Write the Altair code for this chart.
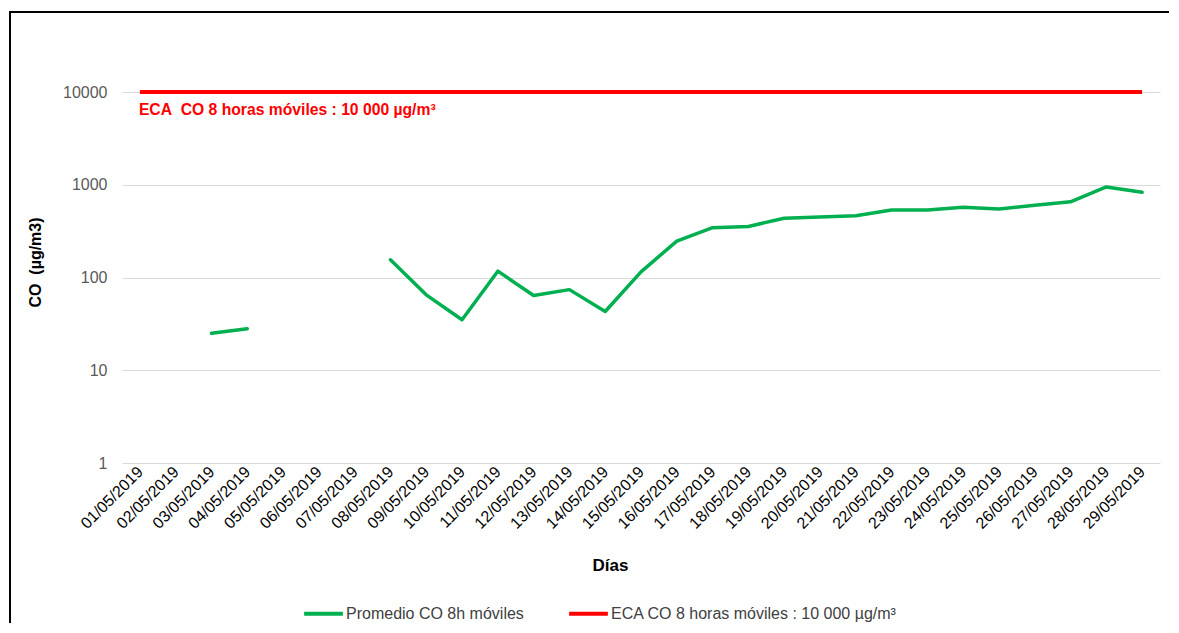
import altair as alt
import pandas as pd

fechas = ["01/05/2019", "02/05/2019", "03/05/2019", "04/05/2019", "05/05/2019",
          "06/05/2019", "07/05/2019", "08/05/2019", "09/05/2019", "10/05/2019",
          "11/05/2019", "12/05/2019", "13/05/2019", "14/05/2019", "15/05/2019",
          "16/05/2019", "17/05/2019", "18/05/2019", "19/05/2019", "20/05/2019",
          "21/05/2019", "22/05/2019", "23/05/2019", "24/05/2019", "25/05/2019",
          "26/05/2019", "27/05/2019", "28/05/2019", "29/05/2019"]

promedio_co = [None, None, 25, 28, None, None, None, 155, 65, 35,
               117, 64, 74, 43, 115, 247, 344, 355, 436, 450,
               463, 533, 533, 572, 548, 602, 655, 946, 828]

eca_valor = 10000
serie_prom = "Promedio CO 8h móviles"
serie_eca = "ECA CO 8 horas móviles : 10 000 µg/m³"
anotacion = "ECA\u00a0 CO 8 horas móviles : 10 000 µg/m³"
y_titulo = "CO\u00a0 (µg/m3)"
y_ticks = [1, 10, 100, 1000, 10000]

FONT = "Liberation Sans"

# build tables
rows = []
seg = 0
prev_none = True
for f, v in zip(fechas, promedio_co):
    if v is None:
        prev_none = True
        continue
    if prev_none:
        seg += 1
        prev_none = False
    rows.append({"fecha": f, "valor": v, "serie": serie_prom, "seg": seg})
df_prom = pd.DataFrame(rows)
df_eca = pd.DataFrame({"fecha": fechas, "valor": [eca_valor] * len(fechas),
                       "serie": [serie_eca] * len(fechas), "seg": [0] * len(fechas)})
df_txt = pd.DataFrame({"fecha": [fechas[0]], "valor": [eca_valor], "texto": [anotacion]})

x_enc = alt.X("fecha:O", sort=fechas,
              scale=alt.Scale(type="point", domain=fechas, padding=0.5),
              axis=alt.Axis(title="Días", labelAngle=-45, labelAlign="right",
                            labelBaseline="middle", labelPadding=6,
                            labelFontSize=16, labelColor="#000000", labelFont=FONT,
                            ticks=False, domain=False, grid=False,
                            titleFont=FONT, titleFontSize=17, titleFontWeight="bold",
                            titleColor="#000000", titleX=488, titleY=102,
                            titleAlign="center", titleBaseline="middle"))
y_enc = alt.Y("valor:Q",
              scale=alt.Scale(type="log", domain=[1, 10000], nice=False),
              axis=alt.Axis(title=y_titulo, values=y_ticks, format="d",
                            labelFontSize=16, labelColor="#595959", labelFont=FONT,
                            labelPadding=15, ticks=False, domain=False,
                            gridColor="#d9d9d9", gridWidth=1,
                            titleFont=FONT, titleFontSize=16, titleFontWeight="bold",
                            titleColor="#000000", titleAngle=-90, titleX=-87, titleY=170,
                            titleAlign="center", titleBaseline="middle"))

color_enc = alt.Color("serie:N",
                      scale=alt.Scale(domain=[serie_prom, serie_eca], range=["#00B050", "#FF0000"]),
                      legend=alt.Legend(title=None, orient="none", direction="horizontal",
                                        legendX=180, legendY=500,
                                        symbolType="stroke", symbolStrokeWidth=4,
                                        symbolSize=1500, labelFont=FONT, labelFontSize=16,
                                        labelColor="#404040", columnPadding=37,
                                        labelOffset=1, padding=0, labelLimit=0))

green = alt.Chart(df_prom).mark_line(strokeWidth=3.5, strokeCap="round", strokeJoin="round").encode(
    x=x_enc, y=y_enc, color=color_enc, detail="seg:N")

red = alt.Chart(df_eca).mark_line(strokeWidth=4).encode(
    x=alt.X("fecha:O", sort=fechas), y=alt.Y("valor:Q"), color=alt.Color("serie:N"))

txt = alt.Chart(df_txt).mark_text(align="left", baseline="middle", dy=18, dx=-1,
                                  font=FONT, fontSize=15.7, fontWeight="bold",
                                  color="#FF0000").encode(
    x=alt.X("fecha:O", sort=fechas), y=alt.Y("valor:Q"), text="texto:N")

frame_df = pd.DataFrame({"k": [0]})
left_border = alt.Chart(frame_df).mark_rule(color="#000000", strokeWidth=2).encode(
    x=alt.value(-112), y=alt.value(-80), y2=alt.value(560))
top_border = alt.Chart(frame_df).mark_rule(color="#000000", strokeWidth=2).encode(
    x=alt.value(-113), x2=alt.value(1047), y=alt.value(-80), y2=alt.value(-80))

chart = alt.layer(red, green, txt, left_border, top_border).properties(
    width=1038, height=371,
    padding={"left": 114, "top": 84, "right": 9, "bottom": 160},
    autosize=alt.AutoSizeParams(type="none"),
    background="#ffffff",
).configure_view(stroke=None)

chart.save("out.html", embed_options={"renderer": "svg", "actions": False})
